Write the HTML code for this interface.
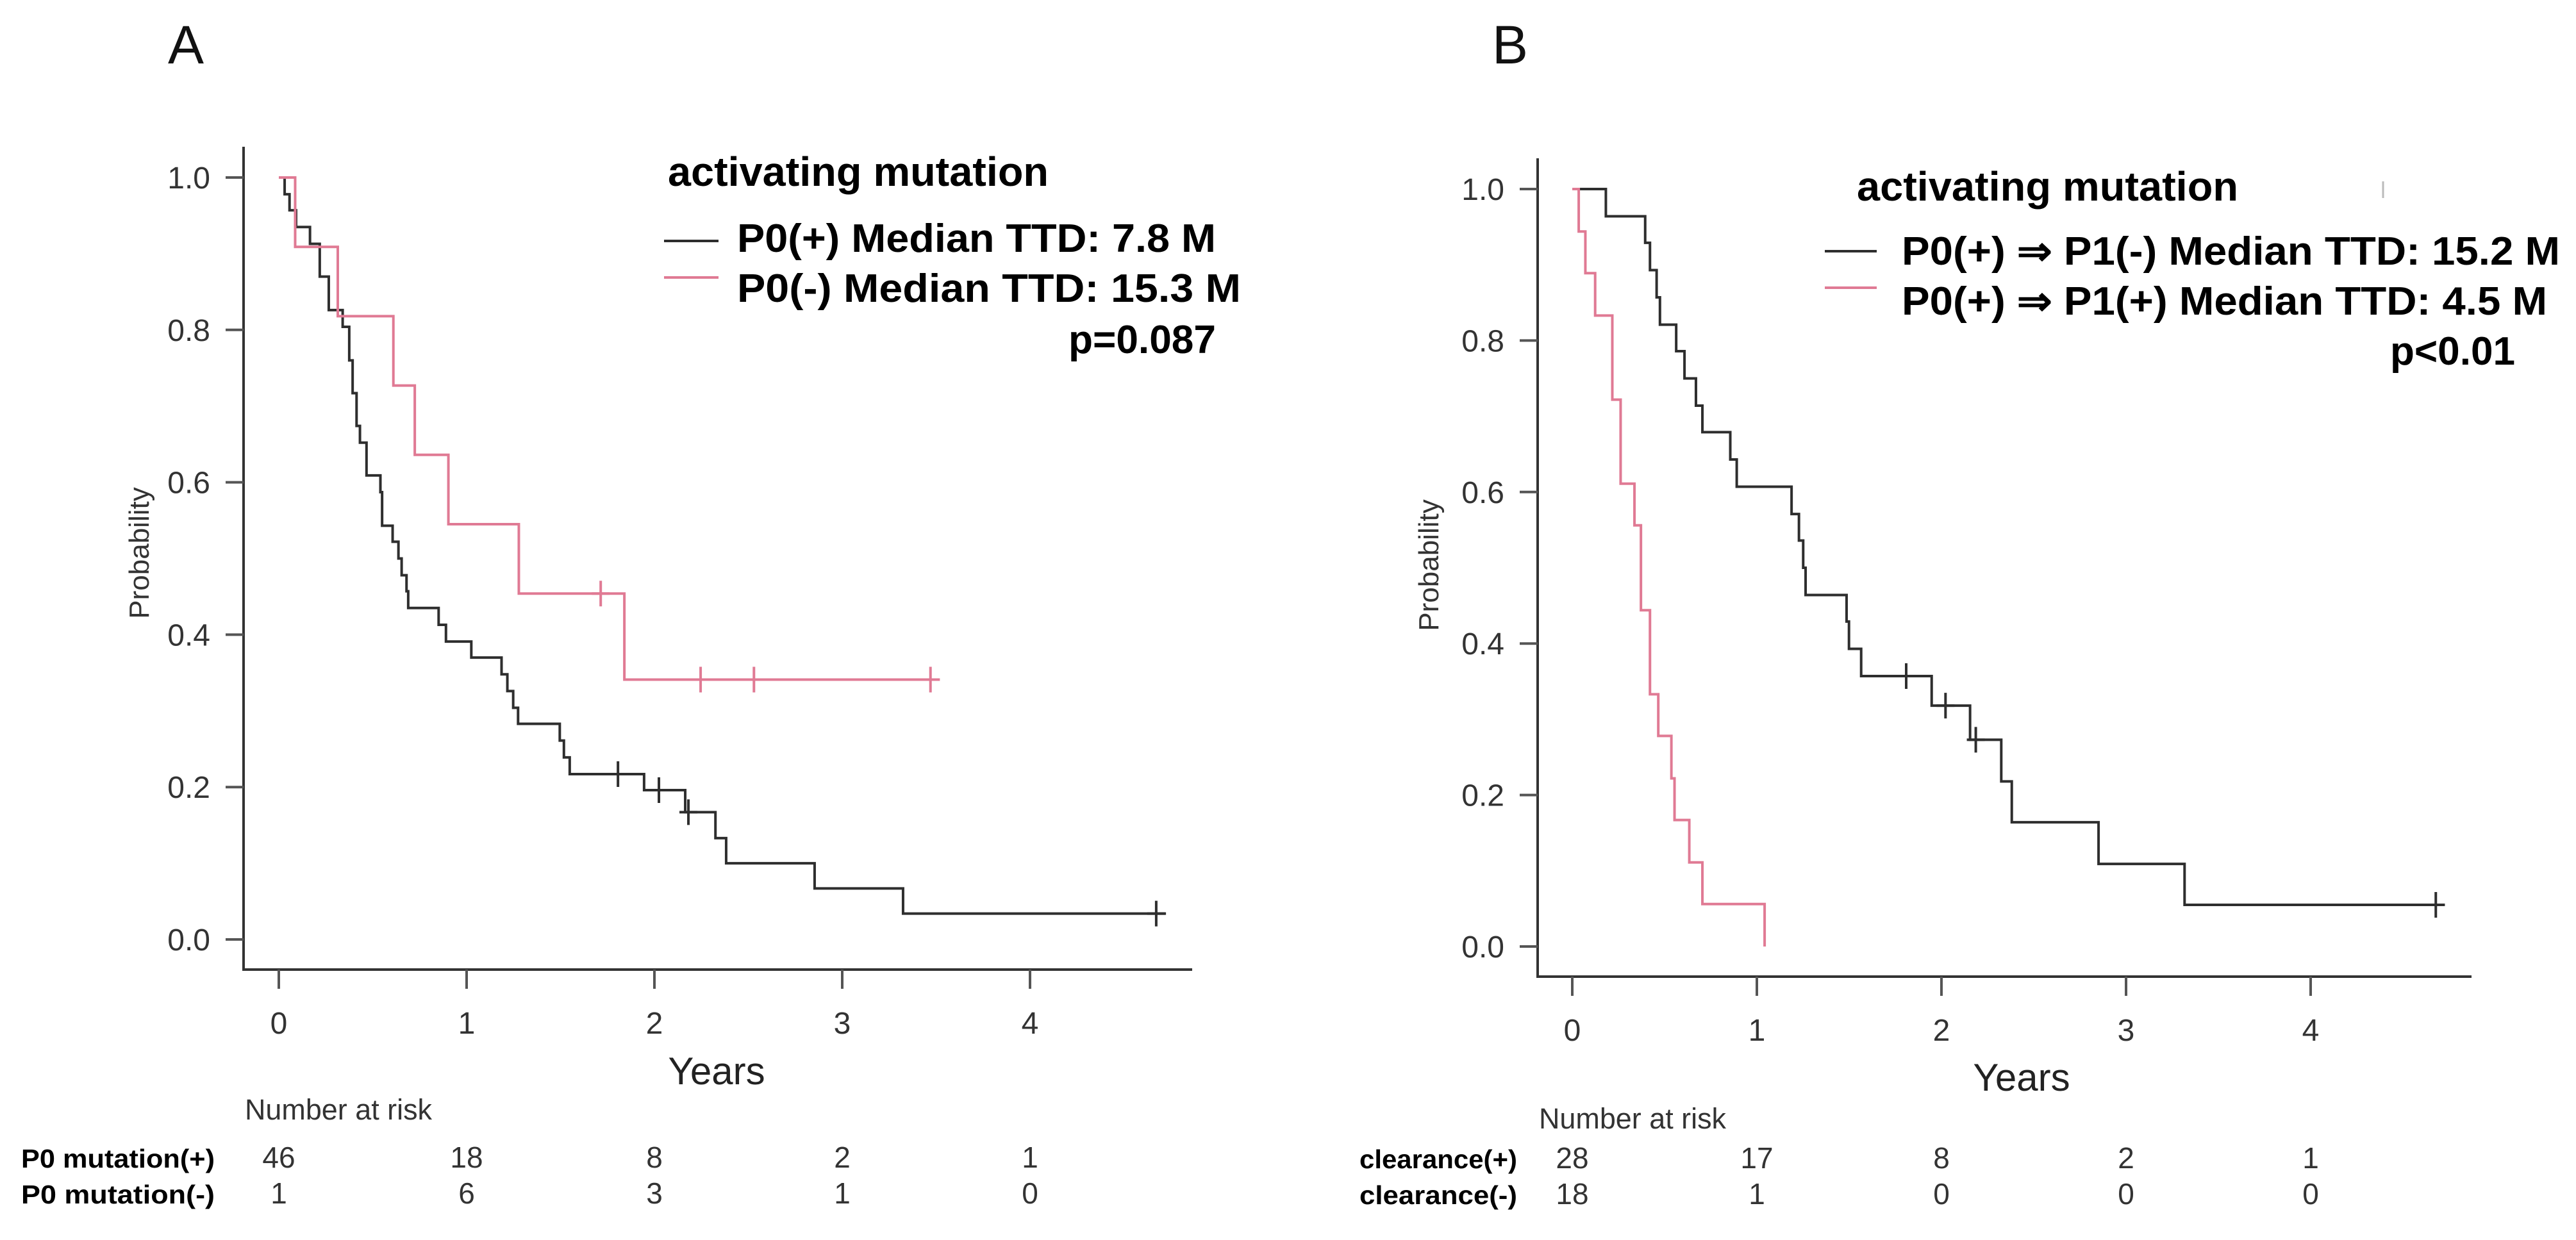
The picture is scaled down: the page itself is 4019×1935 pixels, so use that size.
<!DOCTYPE html>
<html><head><meta charset="utf-8">
<style>
html,body{margin:0;padding:0;background:#fff;}
svg{display:block;font-family:"Liberation Sans",Arial,sans-serif;}
</style></head>
<body>
<svg id="fig" width="4019" height="1935" viewBox="0 0 4019 1935" xmlns="http://www.w3.org/2000/svg">
<rect x="0" y="0" width="4019" height="1935" fill="#fff"/>
<line x1="3718" y1="283" x2="3718" y2="309" stroke="#bbb" stroke-width="3"/>
<g id="layer"></g>
</svg>
<script>
// ---------- data: panel A ----------
const xTicks = [0, 1, 2, 3, 4];
const yTicks = [0, 0.2, 0.4, 0.6, 0.8, 1.0];
const yTickLabels = ["0.0", "0.2", "0.4", "0.6", "0.8", "1.0"];
const aBlackTimes = [0.031,0.057,0.092,0.166,0.218,0.266,0.340,0.375,0.393,0.414,0.432,0.467,0.541,0.550,0.606,0.637,0.654,0.680,0.689,0.851,0.890,1.025,1.186,1.217,1.248,1.274,1.496,1.518,1.549,1.945,2.164,2.325,2.382,2.853,3.324];
const aBlackSurv  = [0.978,0.957,0.935,0.913,0.870,0.826,0.804,0.760,0.717,0.674,0.652,0.609,0.587,0.543,0.522,0.500,0.478,0.457,0.435,0.413,0.391,0.370,0.348,0.326,0.304,0.283,0.261,0.239,0.217,0.196,0.167,0.133,0.100,0.067,0.034];
const aBlackEnd = 4.724;
const aBlackCensor = [1.806, 2.024, 2.181, 4.672];
const aRedTimes = [0.087, 0.314, 0.61, 0.724, 0.903, 1.278, 1.84];
const aRedSurv  = [0.909, 0.818, 0.727, 0.636, 0.545, 0.454, 0.341];
const aRedEnd = 3.52;
const aRedCensor = [1.714, 2.246, 2.53, 3.47];
const aRiskPos = [46, 18, 8, 2, 1];
const aRiskNeg = [1, 6, 3, 1, 0];
// ---------- data: panel B ----------
const bBlackTimes = [0.182,0.395,0.421,0.457,0.475,0.563,0.608,0.670,0.705,0.856,0.891,1.188,1.228,1.251,1.264,1.486,1.499,1.565,1.947,2.155,2.324,2.381,2.851,3.317];
const bBlackSurv  = [0.964,0.929,0.893,0.857,0.821,0.786,0.750,0.714,0.679,0.643,0.607,0.571,0.536,0.500,0.464,0.429,0.393,0.357,0.318,0.273,0.218,0.164,0.109,0.055];
const bBlackEnd = 4.727;
const bBlackCensor = [1.809, 2.022, 2.186, 4.678];
const bRedTimes = [0.035,0.071,0.124,0.217,0.262,0.337,0.372,0.421,0.466,0.537,0.554,0.634,0.705,1.042];
const bRedSurv  = [0.944,0.889,0.833,0.722,0.611,0.556,0.444,0.333,0.278,0.222,0.167,0.111,0.056,0.0];
const bRedEnd = 1.042;
const bRedCensor = [];
const bRiskPos = [28, 17, 8, 2, 1];
const bRiskNeg = [18, 1, 0, 0, 0];

const NS = "http://www.w3.org/2000/svg";
const layer = document.getElementById('layer');
function mk(tag, attrs, parent) {
  const e = document.createElementNS(NS, tag);
  for (const k in attrs) e.setAttribute(k, attrs[k]);
  (parent || layer).appendChild(e);
  return e;
}
function txt(s, attrs, parent) { const e = mk('text', attrs, parent); e.textContent = s; return e; }

const BLACK = "#2e2e2e", PINK = "#e07a94", AX = "#333";

function panel(cfg) {
  const g = mk('g', {});
  
  
  const X = t => cfg.x0 + t * cfg.xs;
  const Y = p => cfg.y0 - p * cfg.ys;
  const yax = mk('line', {x1: cfg.axX, y1: cfg.axTop, x2: cfg.axX, y2: cfg.axY + 2, stroke: AX, 'stroke-width': 4}, g);
  
  
  const xax = mk('line', {x1: cfg.axX - 2, y1: cfg.axY, x2: cfg.axRight, y2: cfg.axY, stroke: AX, 'stroke-width': 4}, g);
  
  
  yTicks.forEach((v, i) => {
    const tk = mk('line', {x1: cfg.axX - 28, y1: Y(v), x2: cfg.axX, y2: Y(v), stroke: '#555', 'stroke-width': 4}, g);
    
    
    const tl = txt(yTickLabels[i], {x: cfg.axX - 52, y: Y(v) + 17, 'font-size': 48, fill: '#333', 'text-anchor': 'end'}, g);
    
    
  });
  xTicks.forEach(v => {
    const tk = mk('line', {x1: X(v), y1: cfg.axY, x2: X(v), y2: cfg.axY + 30, stroke: '#555', 'stroke-width': 4}, g);
    
    
    const tl = txt(String(v), {x: X(v), y: cfg.axY + 100, 'font-size': 48, fill: '#333', 'text-anchor': 'middle'}, g);
    
    
  });
  cfg.series.forEach(s => {
    let d = `M${X(0)},${Y(1)}`;
    s.times.forEach((t, i) => { d += ` H${X(t)} V${Y(s.surv[i])}`; });
    d += ` H${X(s.end)}`;
    const p = mk('path', {d: d, fill: 'none', stroke: s.color, 'stroke-width': 4}, g);
    
    
    s.censor.forEach(t => {
      let sv = 1;
      s.times.forEach((tt, i) => { if (tt <= t) sv = s.surv[i]; });
      const c = mk('path', {d: `M${X(t) - 14},${Y(sv)} H${X(t) + 14} M${X(t)},${Y(sv) - 20} V${Y(sv) + 20}`, stroke: s.color, 'stroke-width': 4, fill: 'none'}, g);
      
      
    });
  });
  const pl = txt(cfg.letter, {x: cfg.letterX, y: 99, 'font-size': 84, fill: '#111'}, g);
  
  
  const yt = txt('Probability', {x: 0, y: 0, 'font-size': 44, fill: '#333', 'text-anchor': 'middle', transform: `translate(${cfg.probX},${cfg.probY}) rotate(-90)`}, g);
  
  
  const xt = txt('Years', {x: cfg.yearsX, y: cfg.yearsY, 'font-size': 60, fill: '#222', 'text-anchor': 'middle'}, g);
  
  
  const lt = txt('activating mutation', {x: cfg.leg.tx, y: cfg.leg.ty, 'font-size': 64, 'font-weight': 'bold', fill: '#000', textLength: cfg.leg.tw, lengthAdjust: 'spacingAndGlyphs'}, g);
  
  
  cfg.leg.rows.forEach(r => {
    const ln = mk('line', {x1: cfg.leg.lx1, x2: cfg.leg.lx2, y1: r.ly, y2: r.ly, stroke: r.color, 'stroke-width': 4}, g);
    
    
    const t = txt(r.text, {x: cfg.leg.x, y: r.y, 'font-size': 62, 'font-weight': 'bold', fill: '#000', textLength: r.w, lengthAdjust: 'spacingAndGlyphs'}, g);
    
    
  });
  const pv = txt(cfg.leg.p, {x: cfg.leg.px, y: cfg.leg.py, 'font-size': 62, 'font-weight': 'bold', fill: '#000', textLength: cfg.leg.pw, lengthAdjust: 'spacingAndGlyphs'}, g);
  
  
  const nr = txt('Number at risk', {x: cfg.axX + 2, y: cfg.riskTitleY, 'font-size': 45, fill: '#333', textLength: 292, lengthAdjust: 'spacingAndGlyphs'}, g);
  
  
  cfg.risk.forEach(r => {
    const lb = txt(r.label, {x: cfg.riskLabelX, y: r.y, 'font-size': 41, 'font-weight': 'bold', fill: '#000', textLength: cfg.riskLabelW, lengthAdjust: 'spacingAndGlyphs'}, g);
    
    
    r.vals.forEach((v, i) => {
      const c = txt(String(v), {x: X(xTicks[i]), y: r.y, 'font-size': 46, fill: '#333', 'text-anchor': 'middle'}, g);
      
      
    });
  });
}

panel({
  name: 'panel-a', letter: 'A', letterX: 262,
  x0: 435, xs: 293, y0: 1466, ys: 1189,
  axX: 380, axTop: 229, axY: 1513, axRight: 1860,
  probX: 232, probY: 863, yearsX: 1118, yearsY: 1692,
  series: [
    {name: 'curve-p0-positive', times: aBlackTimes, surv: aBlackSurv, end: aBlackEnd, censor: aBlackCensor, color: BLACK},
    {name: 'curve-p0-negative', times: aRedTimes, surv: aRedSurv, end: aRedEnd, censor: aRedCensor, color: PINK}
  ],
  leg: {tx: 1042, ty: 290, tw: 594, x: 1150, lx1: 1036, lx2: 1121, p: 'p=0.087', px: 1667, py: 551, pw: 230,
    rows: [{text: 'P0(+) Median TTD: 7.8 M', y: 393, w: 747, ly: 376, color: BLACK},
           {text: 'P0(-)  Median TTD: 15.3 M', y: 471, w: 786, ly: 433, color: PINK}]},
  riskTitleY: 1747, riskLabelX: 33, riskLabelW: 302,
  risk: [{label: 'P0 mutation(+)', y: 1822, vals: aRiskPos}, {label: 'P0  mutation(-)', y: 1878, vals: aRiskNeg}]
});

panel({
  name: 'panel-b', letter: 'B', letterX: 2328,
  x0: 2453, xs: 288, y0: 1477, ys: 1182,
  axX: 2399, axTop: 247, axY: 1524, axRight: 3856,
  probX: 2244, probY: 882, yearsX: 3154, yearsY: 1702,
  series: [
    {name: 'curve-clearance-positive', times: bBlackTimes, surv: bBlackSurv, end: bBlackEnd, censor: bBlackCensor, color: BLACK},
    {name: 'curve-clearance-negative', times: bRedTimes, surv: bRedSurv, end: bRedEnd, censor: bRedCensor, color: PINK}
  ],
  leg: {tx: 2897, ty: 313, tw: 595, x: 2967, lx1: 2847, lx2: 2928, p: 'p<0.01', px: 3729, py: 569, pw: 195,
    rows: [{text: 'P0(+) \u21D2 P1(-) Median TTD: 15.2 M', y: 413, w: 1027, ly: 392, color: BLACK},
           {text: 'P0(+) \u21D2 P1(+) Median TTD: 4.5 M', y: 491, w: 1007, ly: 449, color: PINK}]},
  riskTitleY: 1761, riskLabelX: 2121, riskLabelW: 246,
  risk: [{label: 'clearance(+)', y: 1823, vals: bRiskPos}, {label: 'clearance(-)', y: 1879, vals: bRiskNeg}]
});
</script>
</body></html>
